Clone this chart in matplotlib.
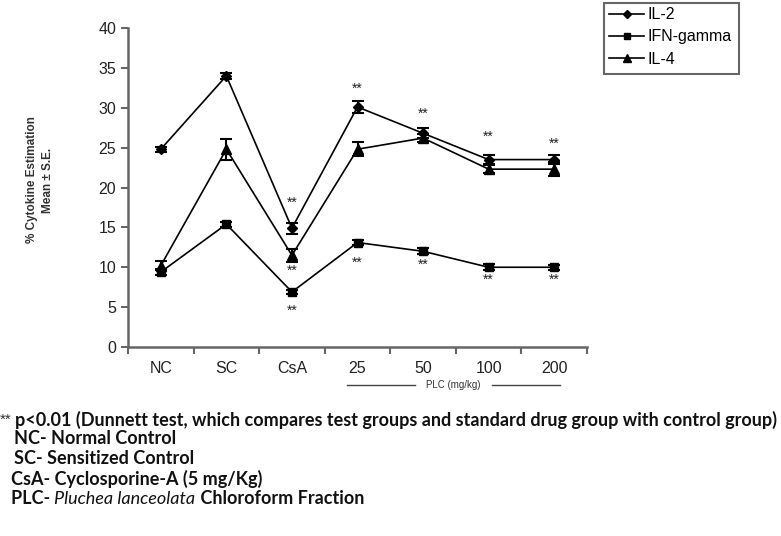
import matplotlib
matplotlib.use("Agg")
import matplotlib.pyplot as plt
from matplotlib.lines import Line2D
from matplotlib.patches import Rectangle

# categories and values
groups = ["NC", "SC", "CsA", "25", "50", "100", "200"]
il2 = [24.8, 34.0, 14.9, 30.1, 26.8, 23.5, 23.5]
il2_se = [0.3, 0.4, 0.7, 0.8, 0.6, 0.6, 0.6]
ifn = [9.4, 15.4, 6.9, 13.1, 12.0, 10.0, 10.0]
ifn_se = [0.4, 0.3, 0.3, 0.3, 0.4, 0.4, 0.3]
il4 = [10.2, 24.8, 11.5, 24.8, 26.2, 22.3, 22.3]
il4_se = [0.6, 1.3, 0.8, 0.9, 0.5, 0.5, 0.9]

# significance marks (group index, y position)
star_x = [2, 2, 2, 3, 3, 4, 4, 5, 5, 6, 6]
star_y = [18.1, 9.6, 4.6, 32.4, 10.5, 29.2, 10.3, 26.4, 8.4, 25.5, 8.4]

notes = [
    "NC- Normal Control",
    "SC- Sensitized Control",
    "CsA- Cyclosporine-A (5 mg/Kg)",
]

plt.rcParams["font.family"] = ["Liberation Sans", "DejaVu Sans"]
axis_grey = "#666666"

fig = plt.figure(figsize=(7.81, 5.36), dpi=100)
ax = fig.add_axes([128 / 781, 1 - 347 / 536, 459 / 781, 319 / 536])

x = list(range(len(groups)))
series = [(il2, il2_se, "D", 5, "IL-2"),
          (ifn, ifn_se, "s", 6, "IFN-gamma"),
          (il4, il4_se, "^", 7, "IL-4")]
handles = []
for vals, se, mk, ms, name in series:
    ax.errorbar(x, vals, yerr=se, color="black", lw=1.2, marker=mk, ms=ms,
                capsize=4, capthick=1.5, elinewidth=1.5)
    handles.append(Line2D([], [], color="black", lw=1.2, marker=mk,
                          ms=ms - 1, label=name))

for sx, sy in zip(star_x, star_y):
    ax.text(sx, sy, "**", ha="center", va="center", fontsize=10, color="#222222")

ax.set_xlim(-0.5, 6.5)
ax.set_ylim(0, 40)
ax.set_yticks(range(0, 41, 5))
ax.set_xticks([i + 0.5 for i in range(-1, 7)])
ax.set_xticklabels([])
ax.set_xticks(x, minor=True)
ax.set_xticklabels(groups, minor=True)
ax.tick_params(axis="x", which="minor", length=0, pad=10, labelsize=11.5,
               labelcolor="#222222")
ax.tick_params(axis="x", which="major", length=5, width=1.5, color=axis_grey,
               direction="out")
ax.tick_params(axis="y", length=5, width=1.5, color=axis_grey, labelsize=11.5,
               labelcolor="#222222")
for side in ["top", "right"]:
    ax.spines[side].set_visible(False)
for side in ["left", "bottom"]:
    ax.spines[side].set_color(axis_grey)
    ax.spines[side].set_linewidth(1.8)

fig.text(40 / 781, 1 - 180 / 536, "% Cytokine Estimation\nMean \u00b1 S.E.",
         rotation=90, ha="center", va="center", fontsize=8.5,
         fontweight="bold", color="#333333", linespacing=1.4)

# PLC bracket under the dose groups
fig.add_artist(Line2D([347 / 781, 415 / 781], [1 - 385 / 536] * 2,
                      color="#444444", lw=1))
fig.add_artist(Line2D([492 / 781, 560 / 781], [1 - 385 / 536] * 2,
                      color="#444444", lw=1))
fig.text(453 / 781, 1 - 385 / 536, "PLC (mg/kg)", ha="center", va="center",
         fontsize=7, color="#333333")

# legend: entries without frame, box drawn separately
fig.legend(handles=handles, loc="upper left",
           bbox_to_anchor=(606 / 781, 1 - 4 / 536), borderaxespad=0,
           fontsize=11.5, frameon=False, handlelength=2.2,
           borderpad=0.2, labelspacing=0.45, handletextpad=0.2)
fig.add_artist(Rectangle((604 / 781, 1 - 74 / 536), 135 / 781, 71 / 536,
                         transform=fig.transFigure, fill=False,
                         edgecolor=axis_grey, lw=1.5))

# footnotes
note_font = dict(fontsize=13, fontweight="bold", color="#111111",
                 family=["Lato", "DejaVu Sans"])
fig.text(0, 1 - 420 / 536, "**", va="center", fontsize=11, color="#333333")
fig.text(15 / 781, 1 - 420 / 536,
         "p<0.01 (Dunnett test, which compares test groups and standard drug group with control group)",
         va="center", **note_font)
for i, line in enumerate(notes):
    fig.text((14 if i < 2 else 11) / 781, 1 - (439 + 20 * i) / 536, line,
             va="center", **note_font)

renderer = fig.canvas.get_renderer()
ypl = 1 - 499 / 536
t1 = fig.text(11 / 781, ypl, "PLC- ", va="center", **note_font)
x1 = t1.get_window_extent(renderer).x1 / fig.bbox.width
t2 = fig.text(x1, ypl, "Pluchea lanceolata", va="center", style="italic",
              **{k: v for k, v in note_font.items() if k != "fontweight"})
x2 = t2.get_window_extent(renderer).x1 / fig.bbox.width
fig.text(x2, ypl, " Chloroform Fraction", va="center", **note_font)

fig.savefig("out.png", dpi=100, facecolor="white")
